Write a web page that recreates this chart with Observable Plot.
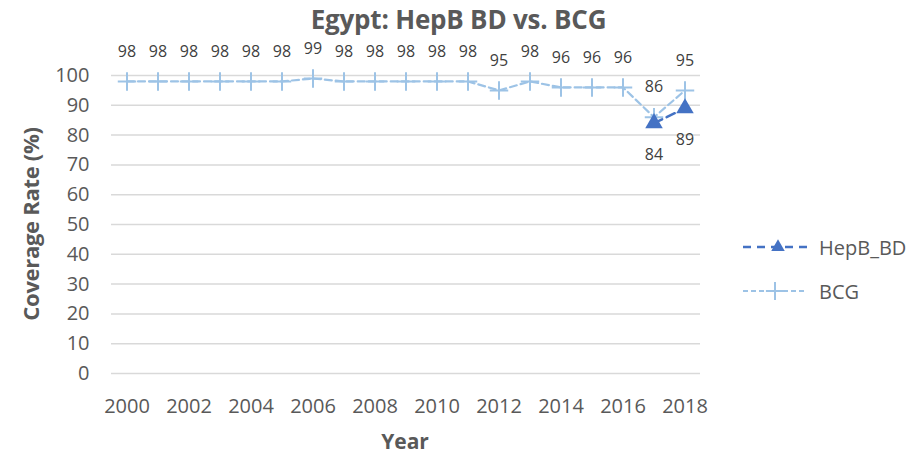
<!DOCTYPE html>
<html>
<head>
<meta charset="utf-8">
<script src="https://cdn.jsdelivr.net/npm/d3@7"></script>
<script src="https://cdn.jsdelivr.net/npm/@observablehq/plot@0.6"></script>
<style>
  html, body { margin: 0; padding: 0; background: #fff; }
  #wrap { position: relative; width: 917px; height: 453px; font-family: "Open Sans", sans-serif; color: #595959; overflow: hidden; }
  #title { position: absolute; left: 0; width: 917px; top: 6px; line-height: 26px; text-align: center; font-size: 26px; font-weight: 700; letter-spacing: -0.2px; }
  #ytitle { position: absolute; left: 30px; top: 224px; line-height: 22px; transform: translate(-50%, -50%) rotate(-90deg); white-space: nowrap; font-size: 22px; font-weight: 700; letter-spacing: -0.3px; }
  #xtitle { position: absolute; left: 405px; top: 441px; line-height: 21px; transform: translate(-50%, -50%); font-size: 21px; font-weight: 700; }
  #chart { position: absolute; left: 0; top: 0; }
  #legend { position: absolute; left: 735px; top: 225px; }
  .lg { display: flex; align-items: center; height: 44px; font-size: 20px; }
  .lg svg { margin-right: 10px; }
</style>
</head>
<body>
<div id="wrap">
  <div id="chart"></div>
  <div id="title">Egypt: HepB BD vs. BCG</div>
  <div id="ytitle">Coverage Rate (%)</div>
  <div id="xtitle">Year</div>
  <div id="legend"></div>
</div>
<script>
const years = [2000,2001,2002,2003,2004,2005,2006,2007,2008,2009,2010,2011,2012,2013,2014,2015,2016,2017,2018];
const bcg   = [98,98,98,98,98,98,99,98,98,98,98,98,95,98,96,96,96,86,95];
const hepbYears = [2017, 2018];
const hepb  = [84, 89];
const xTicks = [2000,2002,2004,2006,2008,2010,2012,2014,2016,2018];
const yTicks = [0,10,20,30,40,50,60,70,80,90,100];
const seriesNames = ["HepB_BD", "BCG"];
const colors = { HepB_BD: "#4472C4", BCG: "#9DC3E6" };

const bcgData = years.map((y, i) => ({ year: y, value: bcg[i] }));
const hepData = hepbYears.map((y, i) => ({ year: y, value: hepb[i] }));

const chart = Plot.plot({
  width: 917,
  height: 453,
  marginLeft: 111,
  marginRight: 217,
  marginTop: 75,
  marginBottom: 80,
  style: { fontFamily: "Open Sans, sans-serif", color: "#595959", background: "transparent" },
  x: { domain: [1999.5, 2018.5], ticks: xTicks, tickFormat: d => String(d), label: null },
  y: { domain: [0, 100], ticks: yTicks, label: null },
  marks: [
    Plot.gridY(yTicks, { stroke: "#d9d9d9", strokeOpacity: 1, strokeWidth: 1.5 }),
    Plot.axisY(yTicks, { tickSize: 0, tickPadding: 22, fontSize: 20, fill: "#595959" }),
    Plot.axisX(xTicks, { tickSize: 0, tickPadding: 25, fontSize: 20, fill: "#595959", tickFormat: d => String(d) }),
    Plot.line(bcgData, { x: "year", y: "value", stroke: colors.BCG, strokeWidth: 2.2, strokeDasharray: "7,4" }),
    Plot.dot(bcgData, { x: "year", y: "value", symbol: "plus", r: 6, stroke: colors.BCG, strokeWidth: 2 }),
    Plot.line(hepData, { x: "year", y: "value", stroke: colors.HepB_BD, strokeWidth: 2.5, strokeDasharray: "9,5" }),
    Plot.dot(hepData, { x: "year", y: "value", symbol: "triangle", r: 6.5, fill: colors.HepB_BD, stroke: "none" }),
    Plot.text(bcgData, { x: "year", y: "value", text: d => String(d.value), dy: -30, fontSize: 16, fill: "#404040" }),
    Plot.text(hepData, { x: "year", y: "value", text: d => String(d.value), dy: 32, fontSize: 16, fill: "#404040" })
  ]
});
document.getElementById("chart").appendChild(chart);

// Legend
const legend = d3.select("#legend");
seriesNames.forEach(name => {
  const row = legend.append("div").attr("class", "lg");
  const svg = row.append("svg").attr("width", 74).attr("height", 20);
  svg.append("line").attr("x1", 8).attr("x2", 72).attr("y1", 10).attr("y2", 10)
    .attr("stroke", colors[name])
    .attr("stroke-width", name === "BCG" ? 2.2 : 2.5)
    .attr("stroke-dasharray", name === "BCG" ? "5,3" : "8,6");
  if (name === "HepB_BD") {
    svg.append("path").attr("d", d3.symbol(d3.symbolTriangle2, 130)()).attr("transform", "translate(43,10)").attr("fill", colors[name]);
  } else {
    svg.append("path").attr("d", d3.symbol(d3.symbolPlus, 110)()).attr("transform", "translate(40,10)").attr("fill", "none").attr("stroke", colors[name]).attr("stroke-width", 2);
  }
  row.append("span").text(name);
});
</script>
</body>
</html>
